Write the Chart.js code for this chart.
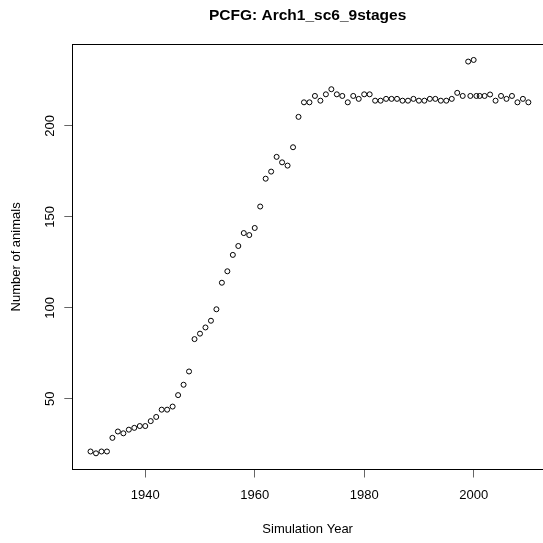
<!DOCTYPE html>
<html>
<head>
<meta charset="utf-8">
<script src="https://cdn.jsdelivr.net/npm/chart.js@4.4.1/dist/chart.umd.min.js"></script>
<style>
  html, body { margin:0; padding:0; background:#fff; overflow:hidden; }
  canvas { display:block; }
</style>
</head>
<body>
<canvas id="chart" width="543" height="543"></canvas>
<script>

const chartTitle = 'PCFG: Arch1_sc6_9stages'
const xTitle     = 'Simulation Year'
const yTitle     = 'Number of animals'

// simulation years (a few runs land between whole years around 2000)
const years = [
  1930, 1931, 1932, 1933, 1934, 1935, 1936, 1937, 1938, 1939,
  1940, 1941, 1942, 1943, 1944, 1945, 1946, 1947, 1948, 1949,
  1950, 1951, 1952, 1953, 1954, 1955, 1956, 1957, 1958, 1959,
  1960, 1961, 1962, 1963, 1964, 1965, 1966, 1967, 1968, 1969,
  1970, 1971, 1972, 1973, 1974, 1975, 1976, 1977, 1978, 1979,
  1980, 1981, 1982, 1983, 1984, 1985, 1986, 1987, 1988, 1989,
  1990, 1991, 1992, 1993, 1994, 1995, 1996, 1997, 1998,
  1999, 2000,
  1999.4, 2000.5, 2001.1,
  2002, 2003, 2004, 2005, 2006, 2007, 2008, 2009, 2010
]

const animals = [
  21, 20, 21, 21, 28.5, 32, 31, 33, 34, 35,
  35, 37.7, 40, 44, 44, 45.7, 52, 57.7, 65, 82.8,
  85.8, 89.2, 92.9, 99.2, 113.8, 120.1, 129.1, 134, 141.1, 140,
  143.9, 155.7, 171, 174.9, 183, 180, 178.2, 188.3, 205, 213,
  213, 216.5, 213.9, 217.4, 220.2, 217.4, 216.5, 213, 216.5, 214.9,
  217.4, 217.4, 213.9, 213.9, 214.9, 214.9, 214.9, 213.9, 213.9, 214.9,
  213.9, 213.9, 214.9, 214.9, 213.9, 213.9, 214.9, 218.2, 216.5,
  235.4, 236.3,
  216.5, 216.5, 216.5,
  216.5, 217.3, 213.9, 216.5, 214.9, 216.5, 213, 214.9, 213
]

const xTicks = [1940, 1960, 1980, 2000]
const yTicks = [50, 100, 150, 200]


const FONT = '"Liberation Sans", Arial, Helvetica, sans-serif'


// R style frame + main title (centered on the plot region)
const frame = {
  id: 'frame',
  afterDraw(chart){
    const {ctx, chartArea:a} = chart
    ctx.save()
    ctx.strokeStyle = '#000'
    ctx.lineWidth = 1
    ctx.strokeRect(Math.round(a.left) + 0.5, Math.round(a.top) + 0.5,
                   Math.round(a.right - a.left) + 4, Math.round(a.bottom - a.top))

    ctx.fillStyle = '#000'
    ctx.font = 'bold 15.5px ' + FONT
    ctx.textAlign = 'center'
    ctx.textBaseline = 'middle'
    ctx.fillText(chartTitle, (a.left + a.right) / 2, 16)
    ctx.restore()
  }
}


function getDataSet(){

  const points = years.map((yr, i) => ({ x: yr, y: animals[i] }))

  return [{
    data: points,
    pointStyle: 'circle',
    pointRadius: 2.5,
    pointHoverRadius: 2.5,
    borderColor: '#000',
    backgroundColor: 'rgba(0,0,0,0)',
    borderWidth: 1,
  }]
}


function axisFont(){ return { family: FONT, size: 13 } }


const setup = {
  type: 'scatter',
  data: { datasets: getDataSet() },
  options: {
    responsive: false,
    animation: false,
    devicePixelRatio: 1,
    layout: { autoPadding: false, padding: { top: 44.3, left: 0, right: 0, bottom: 0 } },
    plugins: {
      legend:  { display: false },
      tooltip: { enabled: false },
      title:   { display: false },
    },
    scales: {
      x: {
        type: 'linear',
        position: 'bottom',
        min: 1926.67,
        max: 2012.67,
        afterBuildTicks: s => { s.ticks = xTicks.map(v => ({ value: v })) },
        afterFit: s => { s.height = 73.5 },
        grid:   { drawOnChartArea: false, drawTicks: true, tickLength: 8, color: '#666' },
        border: { display: false },
        ticks:  { padding: 10, minRotation: 0, maxRotation: 0, color: '#000', font: axisFont(),
                  callback: v => String(v) },
        title:  { display: true, text: xTitle, color: '#000', font: axisFont(),
                  padding: { top: 0, bottom: 6.2 } },
      },
      y: {
        type: 'linear',
        position: 'left',
        min: 11.1,
        max: 244.9,
        afterBuildTicks: s => { s.ticks = yTicks.map(v => ({ value: v })) },
        afterFit: s => { s.width = 72.3 },
        grid:   { drawOnChartArea: false, drawTicks: true, tickLength: 8, color: '#666' },
        border: { display: false },
        ticks:  { padding: 3, minRotation: 90, maxRotation: 90, crossAlign: 'center',
                  color: '#000', font: axisFont(), callback: v => String(v) },
        title:  { display: true, text: yTitle, color: '#000', font: axisFont(),
                  padding: { top: 8.2, bottom: 0 } },
      },
    },
  },
  plugins: [frame],
}

new Chart(document.getElementById('chart'), setup)

</script>
</body>
</html>
